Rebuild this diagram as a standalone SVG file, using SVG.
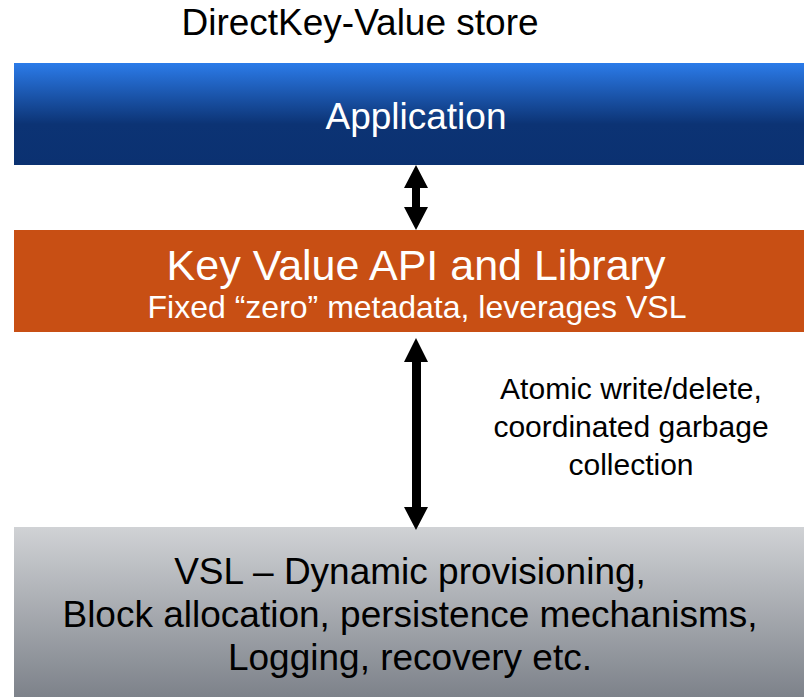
<svg xmlns="http://www.w3.org/2000/svg" width="804" height="697" viewBox="0 0 804 697">
<defs>
<linearGradient id="gBlue" x1="0" y1="0" x2="0" y2="1">
<stop offset="0" stop-color="#2b7be9"/>
<stop offset="0.6" stop-color="#0c3374"/>
<stop offset="1" stop-color="#0b3171"/>
</linearGradient>
<linearGradient id="gGray" x1="0" y1="0" x2="0" y2="1">
<stop offset="0" stop-color="#d0d2d5"/>
<stop offset="1" stop-color="#7d828a"/>
</linearGradient>
</defs>
<style>
text{font-family:"Liberation Sans",Arial,sans-serif;text-anchor:middle}
.w{fill:#ffffff}
.k{fill:#000000}
.arrow{fill:#000000}
</style>
<rect width="804" height="697" fill="#ffffff"/>
<text id="title" class="k" x="360" y="35" font-size="37">DirectKey-Value store</text>
<g id="application">
<rect x="14" y="63" width="790" height="102" fill="url(#gBlue)"/>
<text class="w" x="416" y="129" font-size="37">Application</text>
</g>
<g id="kvapi">
<rect x="14" y="230" width="790" height="102" fill="#c84f14"/>
<text class="w" x="416" y="280" font-size="43">Key Value API and Library</text>
<text class="w" x="417" y="318" font-size="32">Fixed “zero” metadata, leverages VSL</text>
</g>
<g id="vsl">
<rect x="14" y="527" width="790" height="170" fill="url(#gGray)"/>
<text class="k" x="410" y="584" font-size="37">VSL – Dynamic provisioning,</text>
<text class="k" x="410" y="627" font-size="37">Block allocation, persistence mechanisms,</text>
<text class="k" x="410" y="670" font-size="37">Logging, recovery etc.</text>
</g>
<g id="connectors">
<polygon class="arrow" points="416,165 428,188 420,188 420,207 428,207 416,230 404,207 412,207 412,188 404,188"/>
<polygon class="arrow" points="416,338 428,362 421,362 421,507 428,507 416,530 404,507 412,507 412,362 404,362"/>
<text class="k" x="631" y="399" font-size="30">Atomic write/delete,</text>
<text class="k" x="631" y="437" font-size="30">coordinated garbage</text>
<text class="k" x="631" y="475" font-size="30">collection</text>
</g>
</svg>
